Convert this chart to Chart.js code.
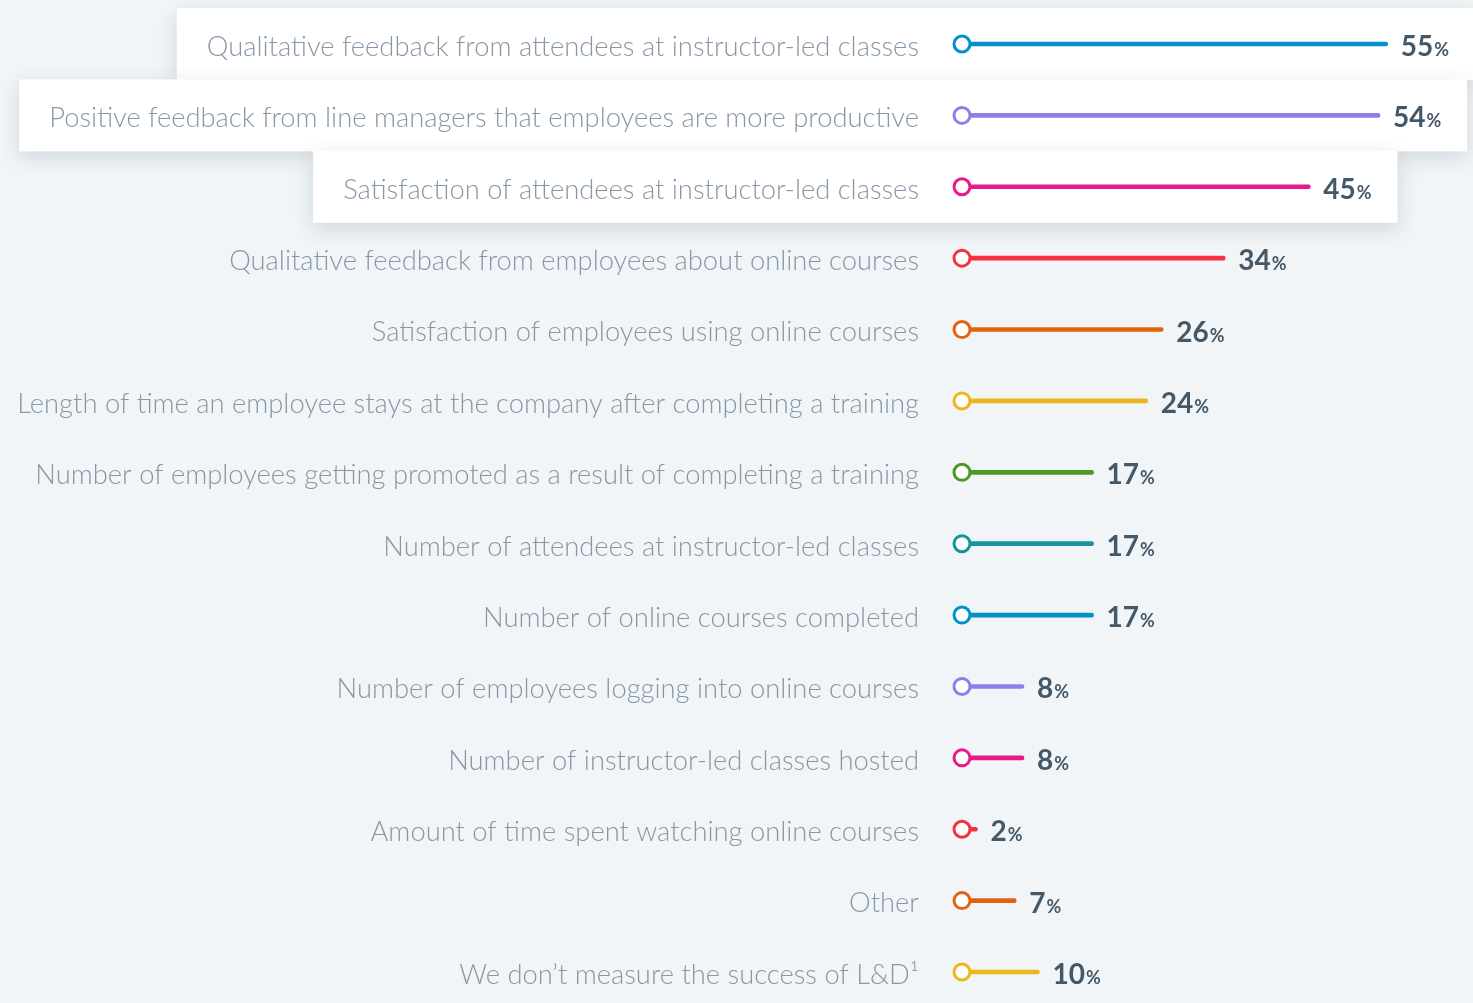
<!DOCTYPE html>
<html>
<head>
<meta charset="utf-8">
<script src="https://cdn.jsdelivr.net/npm/chart.js@4.4.1/dist/chart.umd.min.js"></script>
<style>
  html, body { margin: 0; padding: 0; background: #f1f5f8; }
  #wrap { width: 1473px; height: 1003px; position: relative; }
</style>
</head>
<body>
<div id="wrap"><canvas id="myChart"></canvas></div>
<script>
var labels = [
    'Qualitative feedback from attendees at instructor-led classes',
    'Positive feedback from line managers that employees are more productive',
    'Satisfaction of attendees at instructor-led classes',
    'Qualitative feedback from employees about online courses',
    'Satisfaction of employees using online courses',
    'Length of time an employee stays at the company after completing a training',
    'Number of employees getting promoted as a result of completing a training',
    'Number of attendees at instructor-led classes',
    'Number of online courses completed',
    'Number of employees logging into online courses',
    'Number of instructor-led classes hosted',
    'Amount of time spent watching online courses',
    'Other',
    'We don\u2019t measure the success of L&D\u00b9'
];
var values = [55, 54, 45, 34, 26, 24, 17, 17, 17, 8, 8, 2, 7, 10];
var colors = ['#0291c9', '#8b7fe8', '#e8198b', '#f5313f', '#e4620e', '#ecb71c', '#4b9a29', '#14949b',
              '#0291c9', '#8b7fe8', '#e8198b', '#f5313f', '#e4620e', '#ecb71c'];
var highlighted = 3; // first rows sit on white cards

var labelFamily = "'Source Sans Pro', Lato, 'Open Sans', sans-serif";
var valueFamily = "'Source Sans Pro', Lato, 'Open Sans', sans-serif";
var labelColor = '#8797a6';
var valueColor = '#455868';

// fit the label font so the longest label spans like the original
var probe = document.createElement('canvas').getContext('2d');
probe.font = '300 100px ' + labelFamily;
var longest = 0;
labels.forEach(function (l) { longest = Math.max(longest, probe.measureText(l).width); });
var labelSize = Math.min(28, 100 * 902 / longest);

function valueEnd(ctx, x, v) {
    ctx.font = 'bold 28px ' + valueFamily;
    var w = ctx.measureText(String(v)).width;
    ctx.font = 'bold 18px ' + valueFamily;
    return x + 13 + w + 1 + ctx.measureText('%').width;
}

var cards = {
    id: 'cards',
    beforeDraw: function (chart) {
        var ctx = chart.ctx;
        var y = chart.scales.y;
        var x = chart.scales.x;
        ctx.save();
        ctx.fillStyle = '#f1f5f8';
        ctx.fillRect(0, 0, chart.width, chart.height);
        for (var i = 0; i < highlighted; i++) {
            var cy = y.getPixelForValue(i);
            ctx.font = '300 ' + labelSize + 'px ' + labelFamily;
            var left = y.right - 43 - ctx.measureText(labels[i]).width - 30;
            var right = valueEnd(ctx, x.getPixelForValue(values[i]), values[i]) + 26;
            ctx.shadowColor = 'rgba(40, 55, 70, 0.16)';
            ctx.shadowBlur = 20;
            ctx.shadowOffsetY = 6;
            ctx.fillStyle = '#ffffff';
            ctx.fillRect(left, cy - 36, right - left, 72);
        }
        ctx.restore();
    }
};

var valueLabels = {
    id: 'valueLabels',
    afterDatasetsDraw: function (chart) {
        var ctx = chart.ctx;
        var meta = chart.getDatasetMeta(0);
        ctx.save();
        ctx.fillStyle = valueColor;
        ctx.textBaseline = 'alphabetic';
        meta.data.forEach(function (bar, i) {
            var x = bar.x + 13;
            var y = bar.y + 12;
            ctx.font = 'bold 28px ' + valueFamily;
            ctx.fillText(String(values[i]), x, y);
            x += ctx.measureText(String(values[i])).width;
            ctx.font = 'bold 18px ' + valueFamily;
            ctx.fillText('%', x + 1, y);
        });
        ctx.restore();
    }
};

var ctx = document.getElementById('myChart').getContext('2d');
var myChart = new Chart(ctx, {
    data: {
        labels: labels,
        datasets: [{
            type: 'bar',
            order: 2,
            data: values.map(function (v) { return [0, v]; }),
            backgroundColor: colors,
            barThickness: 4,
            borderRadius: 2,
            borderSkipped: false,
            clip: false
        }, {
            type: 'scatter',
            order: 1,
            data: labels.map(function (l) { return { x: 0, y: l }; }),
            pointRadius: 8,
            pointHoverRadius: 8,
            pointBorderWidth: 3,
            pointBackgroundColor: '#ffffff',
            pointBorderColor: colors,
            showLine: false,
            clip: false
        }]
    },
    options: {
        indexAxis: 'y',
        responsive: true,
        maintainAspectRatio: false,
        animation: false,
        layout: { padding: { top: 44, bottom: 31, left: 0, right: 0 } },
        plugins: {
            legend: { display: false },
            tooltip: { enabled: false }
        },
        scales: {
            x: {
                type: 'linear',
                display: false,
                min: 0,
                max: 64.6
            },
            y: {
                type: 'category',
                offset: false,
                grid: { display: false, drawTicks: false },
                border: { display: false },
                ticks: {
                    padding: 43,
                    labelOffset: 3,
                    color: labelColor,
                    font: { family: labelFamily, size: labelSize, weight: '300' }
                },
                afterFit: function (scale) {
                    scale.width = 962;
                    scale.paddingTop = 0;
                    scale.paddingBottom = 0;
                }
            }
        }
    },
    plugins: [cards, valueLabels]
});
</script>
</body>
</html>
